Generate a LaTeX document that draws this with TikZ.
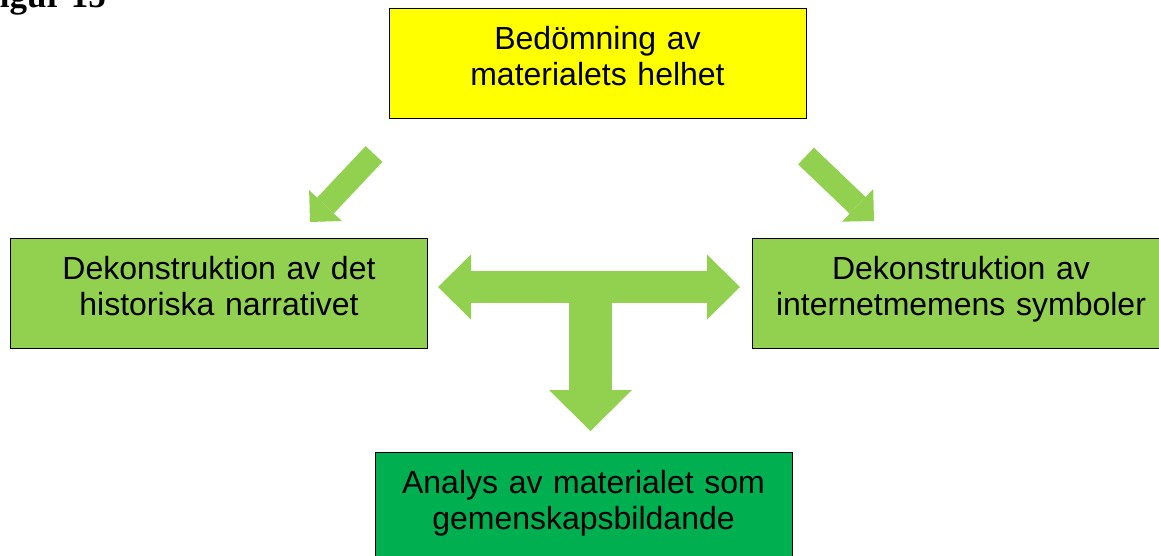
\documentclass[tikz,border=0pt]{standalone}
\usepackage{fontspec}
\setmainfont{Liberation Sans}
\newfontfamily\figfont{Liberation Serif}
\usetikzlibrary{arrows.meta}

\definecolor{boxyellow}{HTML}{FFFF00}
\definecolor{boxlime}{HTML}{92D050}
\definecolor{boxgreen}{HTML}{00B050}

\begin{document}
\begin{tikzpicture}[
    x=1pt, y=-1pt,
    box/.style={draw=black, line width=1pt, inner sep=0pt, minimum width=417pt, minimum height=110pt,
        text width=410pt, align=center, font=\fontsize{32}{36}\selectfont, text height=16pt, text depth=44pt},
    diag/.style={draw=boxlime, line width=23pt, -{Triangle[length=22.6pt, width=45pt, line width=0pt]}},
    across/.style={draw=boxlime, line width=32pt,
        {Triangle[length=33pt, width=65pt, line width=0pt]}-{Triangle[length=33pt, width=65pt, line width=0pt]}},
    down/.style={draw=boxlime, line width=43pt, -{Triangle[length=41pt, width=83pt, line width=0pt]}}
]
\useasboundingbox (0,0) rectangle (1159,555);
\clip (0,0) rectangle (1159,555);

% Caption
\node[anchor=base east, inner sep=0pt, font=\figfont\bfseries\fontsize{35}{40}\selectfont] (caption) at (106,7) {Figur 15};

% Define boxes
\node[box, fill=boxyellow] (helhet) at (597.5,63.5) {Bedömning av\\materialets helhet};
\node[box, fill=boxlime] (narrativ) at (219,293) {Dekonstruktion av det\\historiska narrativet};
\node[box, fill=boxlime] (symboler) at (961,293) {Dekonstruktion av\\internetmemens symboler};
\node[box, fill=boxgreen] (analys) at (583.5,507) {Analys av materialet som\\gemenskapsbildande};

% Arrow ends
\coordinate (ltail) at (374,154);
\coordinate (ltip) at (310,222);
\coordinate (rtail) at (806,156);
\coordinate (rtip) at (874,221);
\coordinate (hleft) at (438,287);
\coordinate (hright) at (740,287);
\coordinate (hmid) at (590.5,287);
\coordinate (vtip) at (590.5,431);

% Define arrows
\path[diag] (ltail) -- (ltip);
\path[diag] (rtail) -- (rtip);
\path[down] (hmid) -- (vtip);
\path[across] (hleft) -- (hright);

\end{tikzpicture}
\end{document}
